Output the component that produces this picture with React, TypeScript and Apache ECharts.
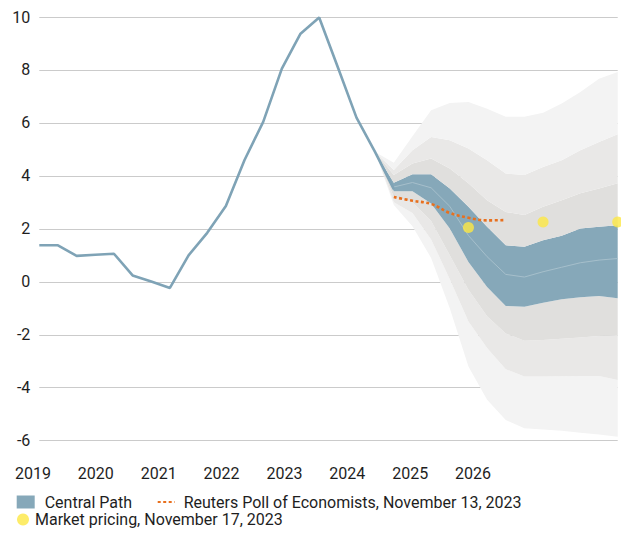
import React, { useEffect, useRef } from "react";
import * as echarts from "echarts";

// Quarterly categories 2019 Q1 .. 2026 Q4
const quarters: string[] = [
  "2019 Q1", "2019 Q2", "2019 Q3", "2019 Q4",
  "2020 Q1", "2020 Q2", "2020 Q3", "2020 Q4",
  "2021 Q1", "2021 Q2", "2021 Q3", "2021 Q4",
  "2022 Q1", "2022 Q2", "2022 Q3", "2022 Q4",
  "2023 Q1", "2023 Q2", "2023 Q3", "2023 Q4",
  "2024 Q1", "2024 Q2", "2024 Q3", "2024 Q4",
  "2025 Q1", "2025 Q2", "2025 Q3", "2025 Q4",
  "2026 Q1", "2026 Q2", "2026 Q3", "2026 Q4",
];

const yearLabels: string[] = ["2019", "2020", "2021", "2022", "2023", "2024", "2025", "2026"];

// Outturn (2019 Q1 .. 2023 Q4)
const history: number[] = [
  1.38, 1.38, 0.98, 1.02, 1.06, 0.24, 0.01, -0.23,
  1.0, 1.85, 2.86, 4.6, 6.04, 8.05, 9.37, 9.98,
  8.1, 6.2, 4.9, 3.5,
];

// Fan (2023 Q3 .. 2026 Q4)
const fanStart = 18;
const outerTop: number[] = [4.9, 4.5, 5.5, 6.48, 6.75, 6.79, 6.54, 6.23, 6.23, 6.38, 6.73, 7.17, 7.67, 7.92];
const middleTop: number[] = [4.9, 4.22, 4.97, 5.47, 5.35, 5.03, 4.59, 4.09, 4.03, 4.34, 4.59, 4.97, 5.28, 5.57];
const innerTop: number[] = [4.9, 4.03, 4.47, 4.66, 4.28, 3.72, 3.08, 2.64, 2.52, 2.83, 3.08, 3.34, 3.52, 3.72];
const centralTop: number[] = [4.9, 3.74, 4.06, 4.06, 3.52, 2.83, 2.08, 1.38, 1.32, 1.57, 1.74, 2.01, 2.08, 2.14];
const centralLine: number[] = [3.58, 3.75, 3.55, 2.85, 1.75, 0.95, 0.28, 0.18, 0.38, 0.55, 0.72, 0.82, 0.88];
const centralBottom: number[] = [4.9, 3.42, 3.42, 2.96, 2.01, 0.75, -0.2, -0.91, -0.94, -0.79, -0.66, -0.58, -0.54, -0.62];
const innerBottom: number[] = [4.9, 3.2, 3.0, 2.3, 1.0, -0.3, -1.3, -1.95, -2.23, -2.2, -2.15, -2.1, -2.05, -2.01];
const middleBottom: number[] = [4.9, 3.0, 2.6, 1.6, 0.1, -1.5, -2.5, -3.3, -3.58, -3.58, -3.57, -3.56, -3.56, -3.71];
const outerBottom: number[] = [4.9, 2.9, 2.1, 0.9, -1.0, -3.2, -4.45, -5.22, -5.53, -5.58, -5.62, -5.7, -5.77, -5.85];

// Reuters poll (2023 Q4 .. 2025 Q2)
const reutersStart = 19;
const reuters: number[] = [3.2, 3.06, 2.94, 2.6, 2.42, 2.32, 2.33];

// Market pricing
const marketQuarters: string[] = ["2024 Q4", "2025 Q4", "2026 Q4"];
const marketValues: number[] = [2.05, 2.26, 2.26];

const yTicks = { min: -6, max: 10, interval: 2 };

const FONT = "Roboto, 'Noto Sans', sans-serif";
const FS = 16;
const TEXT = "#1e1e1e";
const LIGHT = "#f3f3f3";
const MID = "#e9e8e7";
const DARK = "#e0dfdd";
const BLUE = "#86a8b9";

function pad(arr: number[], start: number): (number | string)[] {
  const out: (number | string)[] = [];
  for (let i = 0; i < quarters.length; i++) {
    const j = i - start;
    out.push(j >= 0 && j < arr.length ? arr[j] : "-");
  }
  return out;
}

function diff(a: number[], b: number[]): number[] {
  return a.map((v, i) => +(v - b[i]).toFixed(4));
}

export default function App() {
  const ref = useRef<HTMLDivElement>(null);

  useEffect(() => {
    if (!ref.current) return;
    const chart = echarts.init(ref.current, undefined, { renderer: "svg" });

    const band = (name: string, data: number[], color: string | null) => ({
      name,
      type: "line",
      stack: "fan",
      stackStrategy: "all",
      data: pad(data, fanStart),
      symbol: "none",
      lineStyle: { width: 0, opacity: 0 },
      itemStyle: { color: color || "transparent" },
      areaStyle: color ? { color, opacity: 1 } : { opacity: 0 },
      z: 1,
      silent: true,
    });

    const legendText = (left: number) => ({
      color: TEXT,
      fontSize: FS,
      lineHeight: 16,
      fontFamily: FONT,
      padding: [0, 0, 0, left],
    });

    chart.setOption({
      animation: false,
      grid: [
        { left: 39.3, right: 3.3, top: 17, bottom: 99.3 },
        { left: 33, right: 148, top: 440, height: 1 },
      ],
      xAxis: [
        {
          type: "category",
          gridIndex: 0,
          data: quarters,
          boundaryGap: false,
          axisLine: { show: false },
          axisTick: { show: false },
          axisLabel: { show: false },
          splitLine: { show: false },
        },
        {
          type: "category",
          gridIndex: 1,
          data: yearLabels,
          boundaryGap: false,
          axisLine: { show: false },
          axisTick: { show: false },
          splitLine: { show: false },
          axisLabel: {
            show: true,
            interval: 0,
            margin: 24,
            color: TEXT,
            fontSize: FS,
            fontFamily: FONT,
          },
        },
      ],
      yAxis: [
        {
          type: "value",
          gridIndex: 0,
          min: yTicks.min,
          max: yTicks.max,
          interval: yTicks.interval,
          axisLine: { show: false },
          axisTick: { show: false },
          axisLabel: { margin: 9, color: TEXT, fontSize: FS, fontFamily: FONT },
          splitLine: { lineStyle: { color: "#cbcbcb", width: 1.2 } },
        },
        {
          type: "value",
          gridIndex: 1,
          show: false,
        },
      ],
      legend: [
        {
          data: [{ name: "Central Path", icon: "rect" }],
          left: 16.7,
          top: 494,
          padding: 0,
          itemWidth: 18,
          itemHeight: 13,
          textStyle: legendText(5),
          selectedMode: false,
        },
        {
          data: ["Reuters Poll of Economists, November 13, 2023"],
          left: 156.7,
          top: 494,
          padding: 0,
          itemWidth: 17,
          itemHeight: 13,
          itemStyle: { opacity: 0 },
          textStyle: legendText(4),
          selectedMode: false,
        },
        {
          data: ["Market pricing, November 17, 2023"],
          left: 17,
          top: 511.5,
          padding: 0,
          itemWidth: 14,
          itemHeight: 12,
          textStyle: legendText(0),
          selectedMode: false,
        },
      ],
      series: [
        band("base", outerBottom, null),
        band("outerLow", diff(middleBottom, outerBottom), LIGHT),
        band("middleLow", diff(innerBottom, middleBottom), MID),
        band("innerLow", diff(centralBottom, innerBottom), DARK),
        band("Central Path", diff(centralTop, centralBottom), BLUE),
        band("innerHigh", diff(innerTop, centralTop), DARK),
        band("middleHigh", diff(middleTop, innerTop), MID),
        band("outerHigh", diff(outerTop, middleTop), LIGHT),
        {
          name: "central",
          type: "line",
          data: pad(centralLine, fanStart + 1),
          symbol: "none",
          lineStyle: { color: "#a6bfcb", width: 1 },
          z: 3,
          silent: true,
        },
        {
          name: "Outturn",
          type: "line",
          data: pad(history, 0),
          symbol: "none",
          lineStyle: { color: "#7fa3b6", width: 2.6 },
          itemStyle: { color: "#7fa3b6" },
          z: 4,
        },
        {
          name: "Reuters Poll of Economists, November 13, 2023",
          type: "line",
          data: pad(reuters, reutersStart),
          symbol: "none",
          smooth: 0.4,
          lineStyle: { color: "#e8701e", width: 2.6, type: [3, 2.5] },
          itemStyle: { color: "#e8701e" },
          z: 5,
        },
        {
          name: "Market pricing, November 17, 2023",
          type: "scatter",
          data: marketQuarters.map((q, i) => [q, marketValues[i]]),
          symbol: "circle",
          symbolSize: 11,
          itemStyle: { color: "#fde743" },
          clip: false,
          z: 6,
        },
      ],
    });

    return () => chart.dispose();
  }, []);

  return (
    <div
      ref={ref}
      style={{ position: "fixed", left: 0, top: 0, width: 621, height: 540, background: "#fff" }}
    />
  );
}
